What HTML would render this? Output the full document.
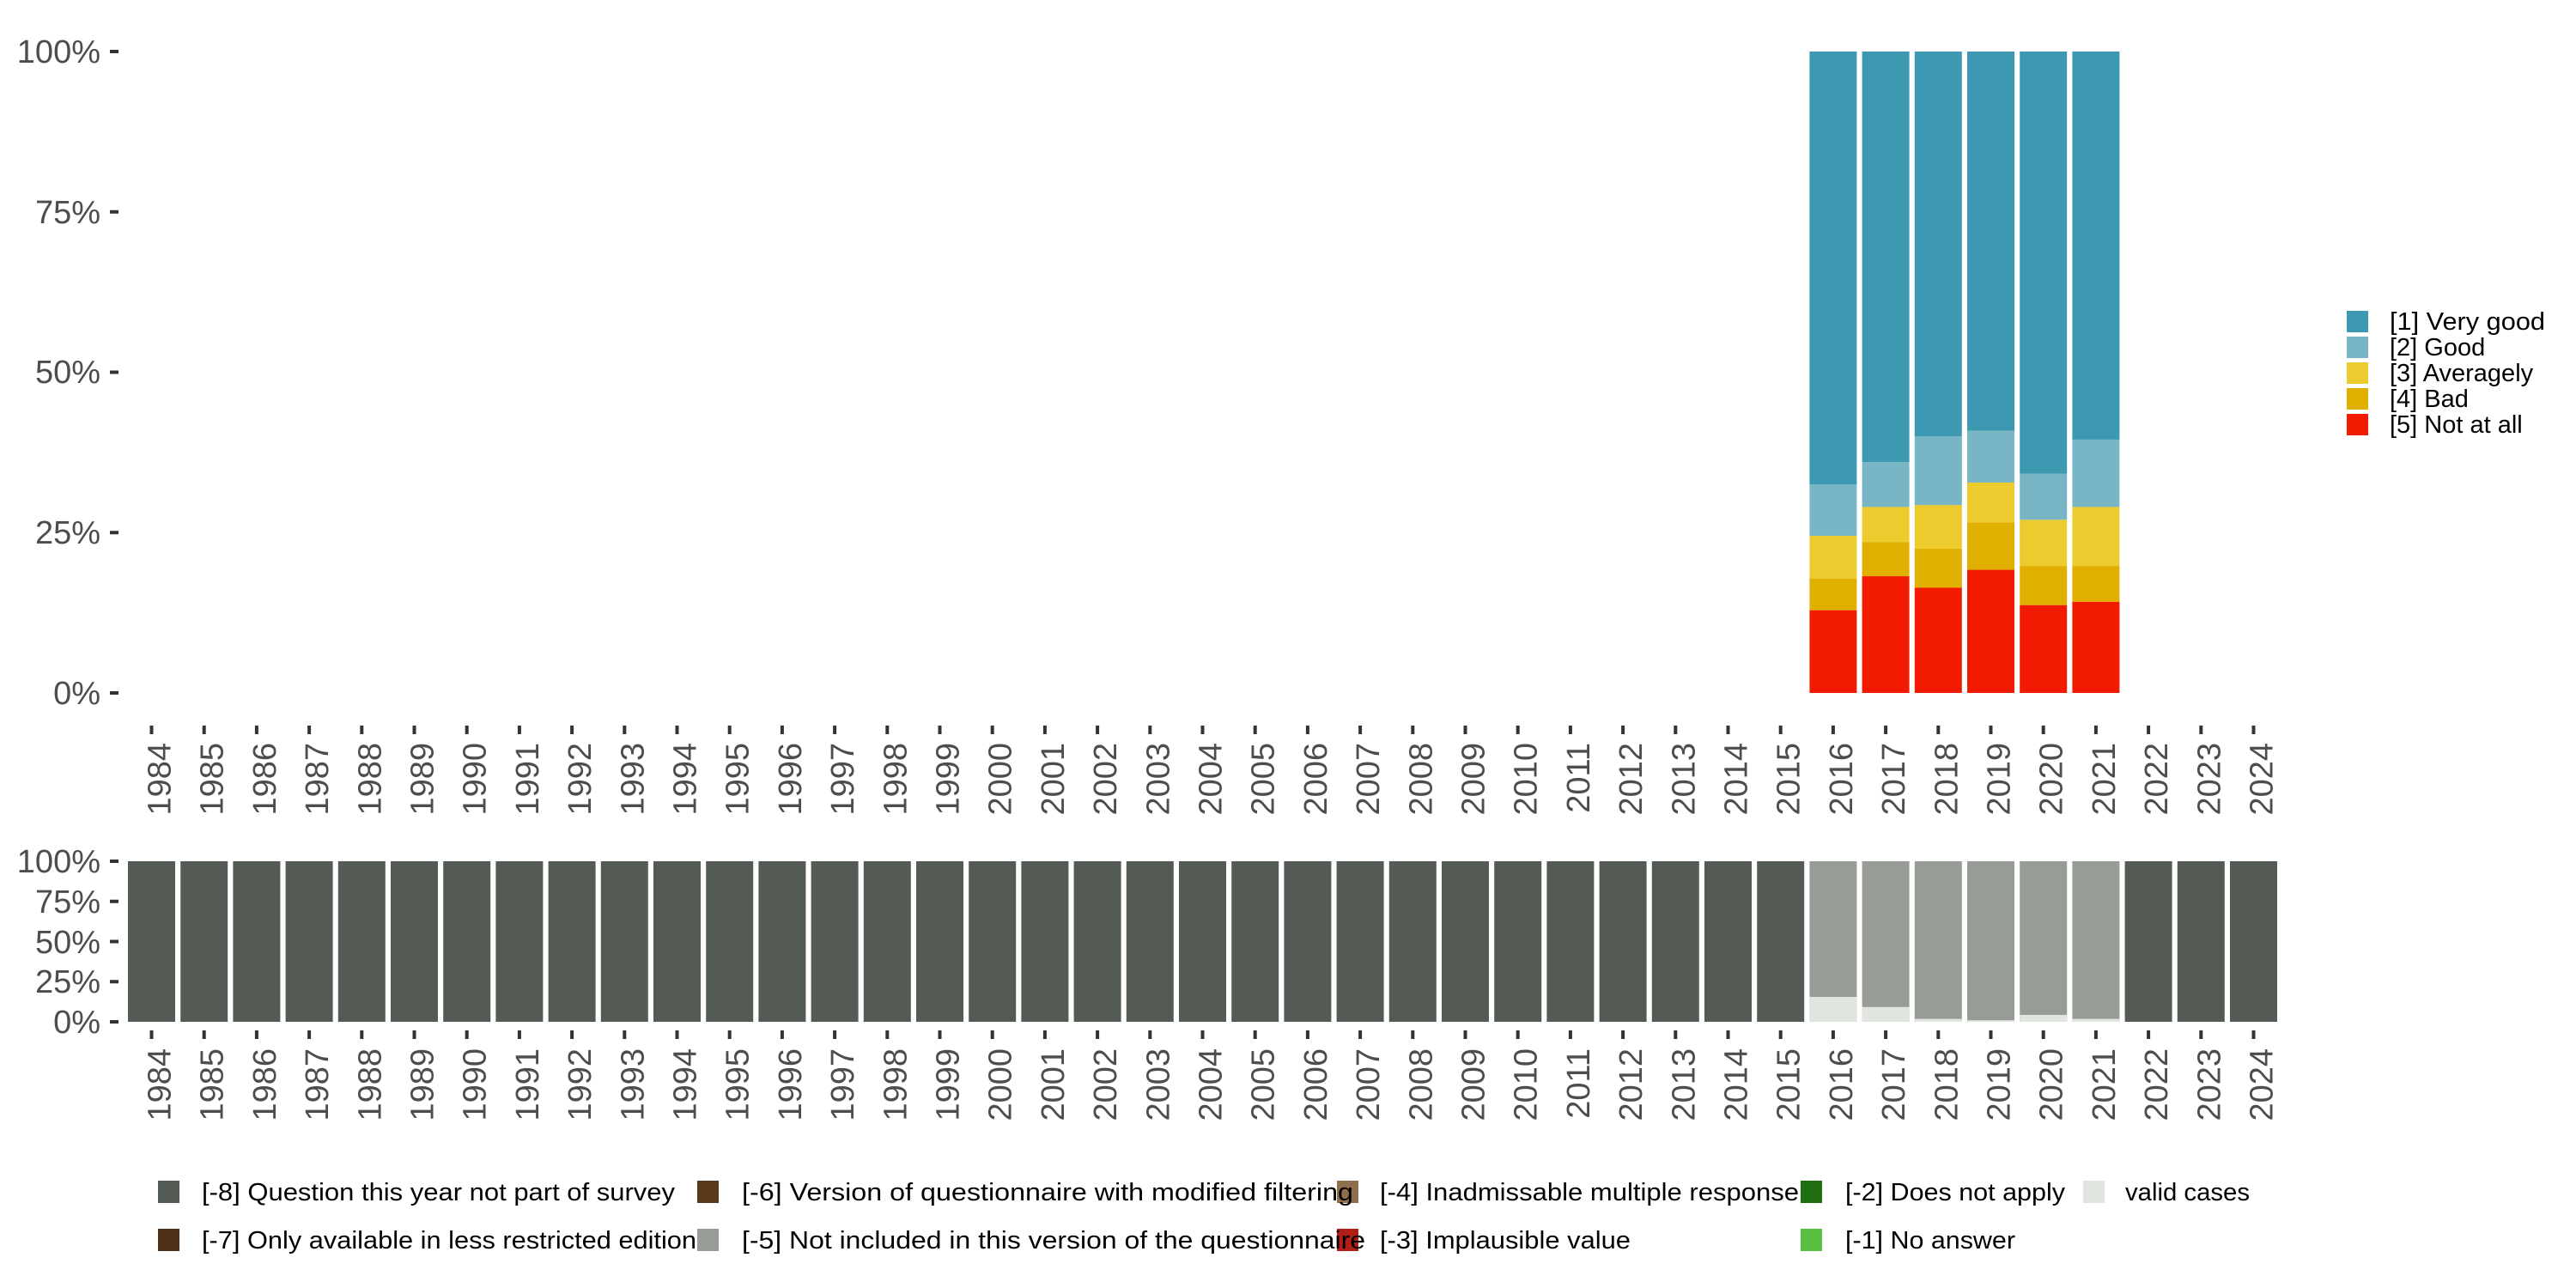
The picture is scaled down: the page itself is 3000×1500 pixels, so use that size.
<!DOCTYPE html>
<html><head><meta charset="utf-8"><style>
html,body{margin:0;padding:0;background:#fff;width:3000px;height:1500px;overflow:hidden}
svg{display:block}
.ax{font-family:"Liberation Sans",sans-serif;font-size:38px;fill:#4d4d4d}
.lg{font-family:"Liberation Sans",sans-serif;font-size:29px;fill:#000}
</style></head><body>
<svg id="s" width="3000" height="1500" viewBox="0 0 3000 1500" xmlns="http://www.w3.org/2000/svg">
<g id="bars"></g>
<g class="ax" text-anchor="end">
<text x="117" y="73">100%</text><text x="117" y="260">75%</text><text x="117" y="446">50%</text><text x="117" y="633">25%</text><text x="117" y="820">0%</text>
<text x="117" y="1016">100%</text><text x="117" y="1063">75%</text><text x="117" y="1110">50%</text><text x="117" y="1156">25%</text><text x="117" y="1203">0%</text>
</g>
<g class="ax" text-anchor="end" id="toplab">
<text>1984</text><text>1985</text><text>1986</text><text>1987</text><text>1988</text><text>1989</text><text>1990</text><text>1991</text><text>1992</text><text>1993</text><text>1994</text><text>1995</text><text>1996</text><text>1997</text><text>1998</text><text>1999</text><text>2000</text><text>2001</text><text>2002</text><text>2003</text><text>2004</text><text>2005</text><text>2006</text><text>2007</text><text>2008</text><text>2009</text><text>2010</text><text>2011</text><text>2012</text><text>2013</text><text>2014</text><text>2015</text><text>2016</text><text>2017</text><text>2018</text><text>2019</text><text>2020</text><text>2021</text><text>2022</text><text>2023</text><text>2024</text>
</g>
<g class="ax" text-anchor="end" id="botlab">
<text>1984</text><text>1985</text><text>1986</text><text>1987</text><text>1988</text><text>1989</text><text>1990</text><text>1991</text><text>1992</text><text>1993</text><text>1994</text><text>1995</text><text>1996</text><text>1997</text><text>1998</text><text>1999</text><text>2000</text><text>2001</text><text>2002</text><text>2003</text><text>2004</text><text>2005</text><text>2006</text><text>2007</text><text>2008</text><text>2009</text><text>2010</text><text>2011</text><text>2012</text><text>2013</text><text>2014</text><text>2015</text><text>2016</text><text>2017</text><text>2018</text><text>2019</text><text>2020</text><text>2021</text><text>2022</text><text>2023</text><text>2024</text>
</g>
<rect x="2733" y="362" width="25" height="25" fill="#3C99B1"/>
<rect x="2733" y="392" width="25" height="25" fill="#78B6C5"/>
<rect x="2733" y="422" width="25" height="25" fill="#EBCB2D"/>
<rect x="2733" y="452" width="25" height="25" fill="#E1AF00"/>
<rect x="2733" y="482" width="25" height="25" fill="#F21A00"/>
<g class="lg">
<text x="2783" y="384" textLength="181" lengthAdjust="spacingAndGlyphs">[1] Very good</text>
<text x="2783" y="414">[2] Good</text>
<text x="2783" y="444">[3] Averagely</text>
<text x="2783" y="474">[4] Bad</text>
<text x="2783" y="504">[5] Not at all</text>
</g>
<rect x="184" y="1375" width="25" height="26" fill="#545B55"/>
<rect x="184" y="1431" width="25" height="26" fill="#4F3119"/>
<rect x="812" y="1375" width="25" height="26" fill="#5A3A1A"/>
<rect x="812" y="1431" width="25" height="26" fill="#989C96"/>
<rect x="1557" y="1375" width="25" height="26" fill="#8F6E4B"/>
<rect x="1557" y="1431" width="25" height="26" fill="#B11E16"/>
<rect x="2097" y="1375" width="25" height="26" fill="#1F6F12"/>
<rect x="2097" y="1431" width="25" height="26" fill="#5BBF41"/>
<rect x="2426" y="1375" width="25" height="26" fill="#E1E5E0"/>
<g class="lg">
<text x="235" y="1398" textLength="551" lengthAdjust="spacingAndGlyphs">[-8] Question this year not part of survey</text>
<text x="235" y="1454" textLength="576" lengthAdjust="spacingAndGlyphs">[-7] Only available in less restricted edition</text>
<text x="864" y="1398" textLength="712" lengthAdjust="spacingAndGlyphs">[-6] Version of questionnaire with modified filtering</text>
<text x="864" y="1454" textLength="726" lengthAdjust="spacingAndGlyphs">[-5] Not included in this version of the questionnaire</text>
<text x="1607" y="1398" textLength="488" lengthAdjust="spacingAndGlyphs">[-4] Inadmissable multiple response</text>
<text x="1607" y="1454" textLength="292" lengthAdjust="spacingAndGlyphs">[-3] Implausible value</text>
<text x="2149" y="1398" textLength="256" lengthAdjust="spacingAndGlyphs">[-2] Does not apply</text>
<text x="2149" y="1454" textLength="198" lengthAdjust="spacingAndGlyphs">[-1] No answer</text>
<text x="2475" y="1398" textLength="145" lengthAdjust="spacingAndGlyphs">valid cases</text>
</g>
</svg>
<script>
(function(){
var NS="http://www.w3.org/2000/svg",g=document.getElementById("bars");
function r(x,y,w,h,c){var e=document.createElementNS(NS,"rect");e.setAttribute("x",x);e.setAttribute("y",y);e.setAttribute("width",w);e.setAttribute("height",h);e.setAttribute("fill",c);g.appendChild(e);}
function X(i){return 176.5+61.2*i;}
[60,246.75,433.5,620.25,807,1003,1049.75,1096.5,1143.25,1190].forEach(function(y){r(128,y-2,10,4,"#333");});
var tl=document.getElementById("toplab").children,bl=document.getElementById("botlab").children;
for(var i=0;i<41;i++){var x=X(i);
 r(x-2,845,4,10,"#333");r(x-2,1200,4,10,"#333");
 tl[i].setAttribute("transform","translate("+(x+22)+",865) rotate(-90)");
 bl[i].setAttribute("transform","translate("+(x+22)+",1221) rotate(-90)");
}
var d={32:[.129,.178,.245,.325],33:[.182,.235,.29,.36],34:[.164,.225,.293,.40],35:[.192,.266,.328,.409],36:[.137,.198,.27,.342],37:[.142,.198,.29,.395]};
var cols=["#F21A00","#E1AF00","#EBCB2D","#78B6C5","#3C99B1"];
function Yt(v){return 807-v*747;}
for(var k in d){var a=[0].concat(d[k]).concat([1]),xx=X(+k)-27.5;
 for(var j=0;j<5;j++){r(xx,Yt(a[j+1]),55,Yt(a[j])-Yt(a[j+1]),cols[j]);}}
var v={32:.155,33:.092,34:.018,35:.01,36:.043,37:.018};
function Yb(q){return 1190-q*187;}
for(var i2=0;i2<41;i2++){var x2=X(i2)-27.5;
 if(v[i2]!==undefined){r(x2,1003,55,187,"#989C96");r(x2,Yb(v[i2]),55,Yb(0)-Yb(v[i2]),"#E1E5E0");}
 else r(x2,1003,55,187,"#545B55");}
})();
</script>
</body></html>
